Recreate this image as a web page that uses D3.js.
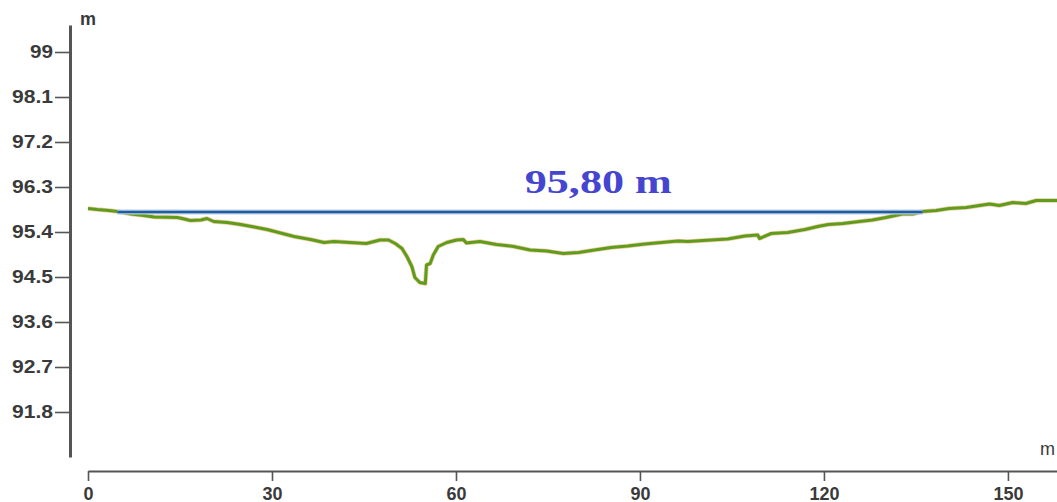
<!DOCTYPE html>
<html>
<head>
<meta charset="utf-8">
<script src="https://cdn.jsdelivr.net/npm/d3@7"></script>
<style>
  html, body { margin: 0; padding: 0; background: #fff; }
  svg { display: block; }
  .tick text { font-family: "Liberation Sans", Arial, sans-serif; }
</style>
</head>
<body>
<svg id="chart" width="1057" height="502"></svg>
<script>
// distance along section (m)
var distances = [0, 1.5, 3.4, 4.8, 7.0, 9.1, 10.8, 14.6, 15.7, 16.7, 18.4, 19.4, 20.5, 22.7, 24.9, 27.1,
  29.2, 31.4, 33.6, 36.3, 38.5, 40.1, 42.7, 45.4, 47.6, 49.0, 50.1, 51.2, 52.0, 52.8, 53.3, 54.1,
  55.0, 55.2, 55.8, 56.3, 57.1, 58.5, 60.1, 61.2, 61.7, 63.9, 66.6, 69.4, 72.1, 74.8, 77.5, 80.0,
  82.6, 85.3, 88.0, 90.8, 93.5, 96.2, 97.8, 101.6, 104.3, 107.1, 109.2, 109.5, 111.4, 114.1, 116.9,
  119.0, 120.7, 123.1, 125.8, 127.9, 130.1, 132.8, 134.5, 136.1, 138.3, 140.4, 143.2, 147.0, 148.6,
  150.8, 152.9, 154.6, 158];
// ground elevation (m)
var elevations = [95.87, 95.85, 95.83, 95.81, 95.76, 95.73, 95.70, 95.69, 95.66, 95.63, 95.64, 95.67, 95.61, 95.59, 95.55, 95.50,
  95.45, 95.38, 95.31, 95.25, 95.19, 95.21, 95.19, 95.17, 95.24, 95.24, 95.17, 95.07, 94.91, 94.71, 94.49, 94.39,
  94.37, 94.74, 94.77, 94.94, 95.11, 95.19, 95.24, 95.25, 95.18, 95.21, 95.15, 95.11, 95.04, 95.02, 94.97, 94.99,
  95.04, 95.09, 95.12, 95.16, 95.19, 95.22, 95.21, 95.24, 95.26, 95.32, 95.34, 95.27, 95.37, 95.39, 95.45,
  95.51, 95.55, 95.57, 95.61, 95.64, 95.69, 95.76, 95.76, 95.81, 95.83, 95.87, 95.89, 95.96, 95.93,
  95.99, 95.97, 96.03, 96.03];
var yTicks = [91.8, 92.7, 93.6, 94.5, 95.4, 96.3, 97.2, 98.1, 99];
var xTicks = [0, 30, 60, 90, 120, 150];
var waterLevel = 95.80;
var waterExtent = [4.8, 136.1];
var waterLabel = "95,80 m";

var svg = d3.select("#chart"),
  axisColor = "#555",
  labelColor = "#3a3a3a",
  x = d3.scaleLinear().domain([0, 158]).range([88, 1057]),
  y = d3.scaleLinear().domain([90.9, 99.54]).range([457, 25]),
  profile = d3.zip(distances, elevations),
  line = d3.line()
    .x(function(d) { return x(d[0]); })
    .y(function(d) { return y(d[1]); });

// y axis
var yAxis = svg.append("g")
  .attr("transform", "translate(70,0)")
  .call(d3.axisLeft(y).tickValues(yTicks).tickFormat(d3.format("")).tickSizeInner(15).tickSizeOuter(0).tickPadding(2));
yAxis.select(".domain").attr("stroke", axisColor).attr("stroke-width", 3);
yAxis.selectAll(".tick line").attr("stroke", axisColor).attr("stroke-width", 1.6);
yAxis.selectAll(".tick text")
  .attr("fill", labelColor)
  .attr("font-size", 18)
  .attr("font-weight", "bold")
  .attr("textLength", function(d) { return String(d).length > 2 ? 41 : 23; })
  .attr("lengthAdjust", "spacingAndGlyphs");

// x axis
var xAxis = svg.append("g")
  .attr("transform", "translate(0,471)")
  .call(d3.axisBottom(x).tickValues(xTicks).tickSizeInner(10).tickSizeOuter(0).tickPadding(6));
xAxis.select(".domain").attr("stroke", axisColor).attr("stroke-width", 2);
xAxis.selectAll(".tick line").attr("stroke", axisColor).attr("stroke-width", 1.6);
xAxis.selectAll(".tick text")
  .attr("fill", labelColor)
  .attr("font-size", 18)
  .attr("font-weight", "bold");

// unit labels
svg.append("text")
  .attr("x", 80).attr("y", 25)
  .attr("font-family", "Liberation Sans, Arial, sans-serif")
  .attr("font-size", 18)
  .attr("font-weight", "bold")
  .attr("fill", labelColor)
  .text("m");
svg.append("text")
  .attr("x", 1040).attr("y", 455)
  .attr("font-family", "Liberation Sans, Arial, sans-serif")
  .attr("font-size", 18)
  .attr("fill", labelColor)
  .text("m");

// ground profile
svg.append("path")
  .datum(profile)
  .attr("d", line)
  .attr("fill", "none")
  .attr("stroke", "#e3a86a")
  .attr("stroke-opacity", 0.6)
  .attr("stroke-width", 4.5)
  .attr("stroke-linejoin", "round");
svg.append("path")
  .datum(profile)
  .attr("d", line)
  .attr("fill", "none")
  .attr("stroke", "#5e9c1c")
  .attr("stroke-width", 3)
  .attr("stroke-linejoin", "round");

// water level
var water = waterExtent.map(function(d) { return [d, waterLevel]; });
svg.append("path")
  .datum(water)
  .attr("d", line)
  .attr("stroke", "#b7cde6")
  .attr("stroke-width", 5);
svg.append("path")
  .datum(water)
  .attr("d", line)
  .attr("stroke", "#1f5d9f")
  .attr("stroke-width", 2.6);

svg.append("text")
  .attr("x", x(83.2))
  .attr("y", y(waterLevel) - 19)
  .attr("text-anchor", "middle")
  .attr("font-family", "Liberation Serif, Times New Roman, serif")
  .attr("font-weight", "bold")
  .attr("font-size", 34)
  .attr("fill", "#4545cf")
  .attr("textLength", 147)
  .attr("lengthAdjust", "spacingAndGlyphs")
  .text(waterLabel);
</script>
</body>
</html>
